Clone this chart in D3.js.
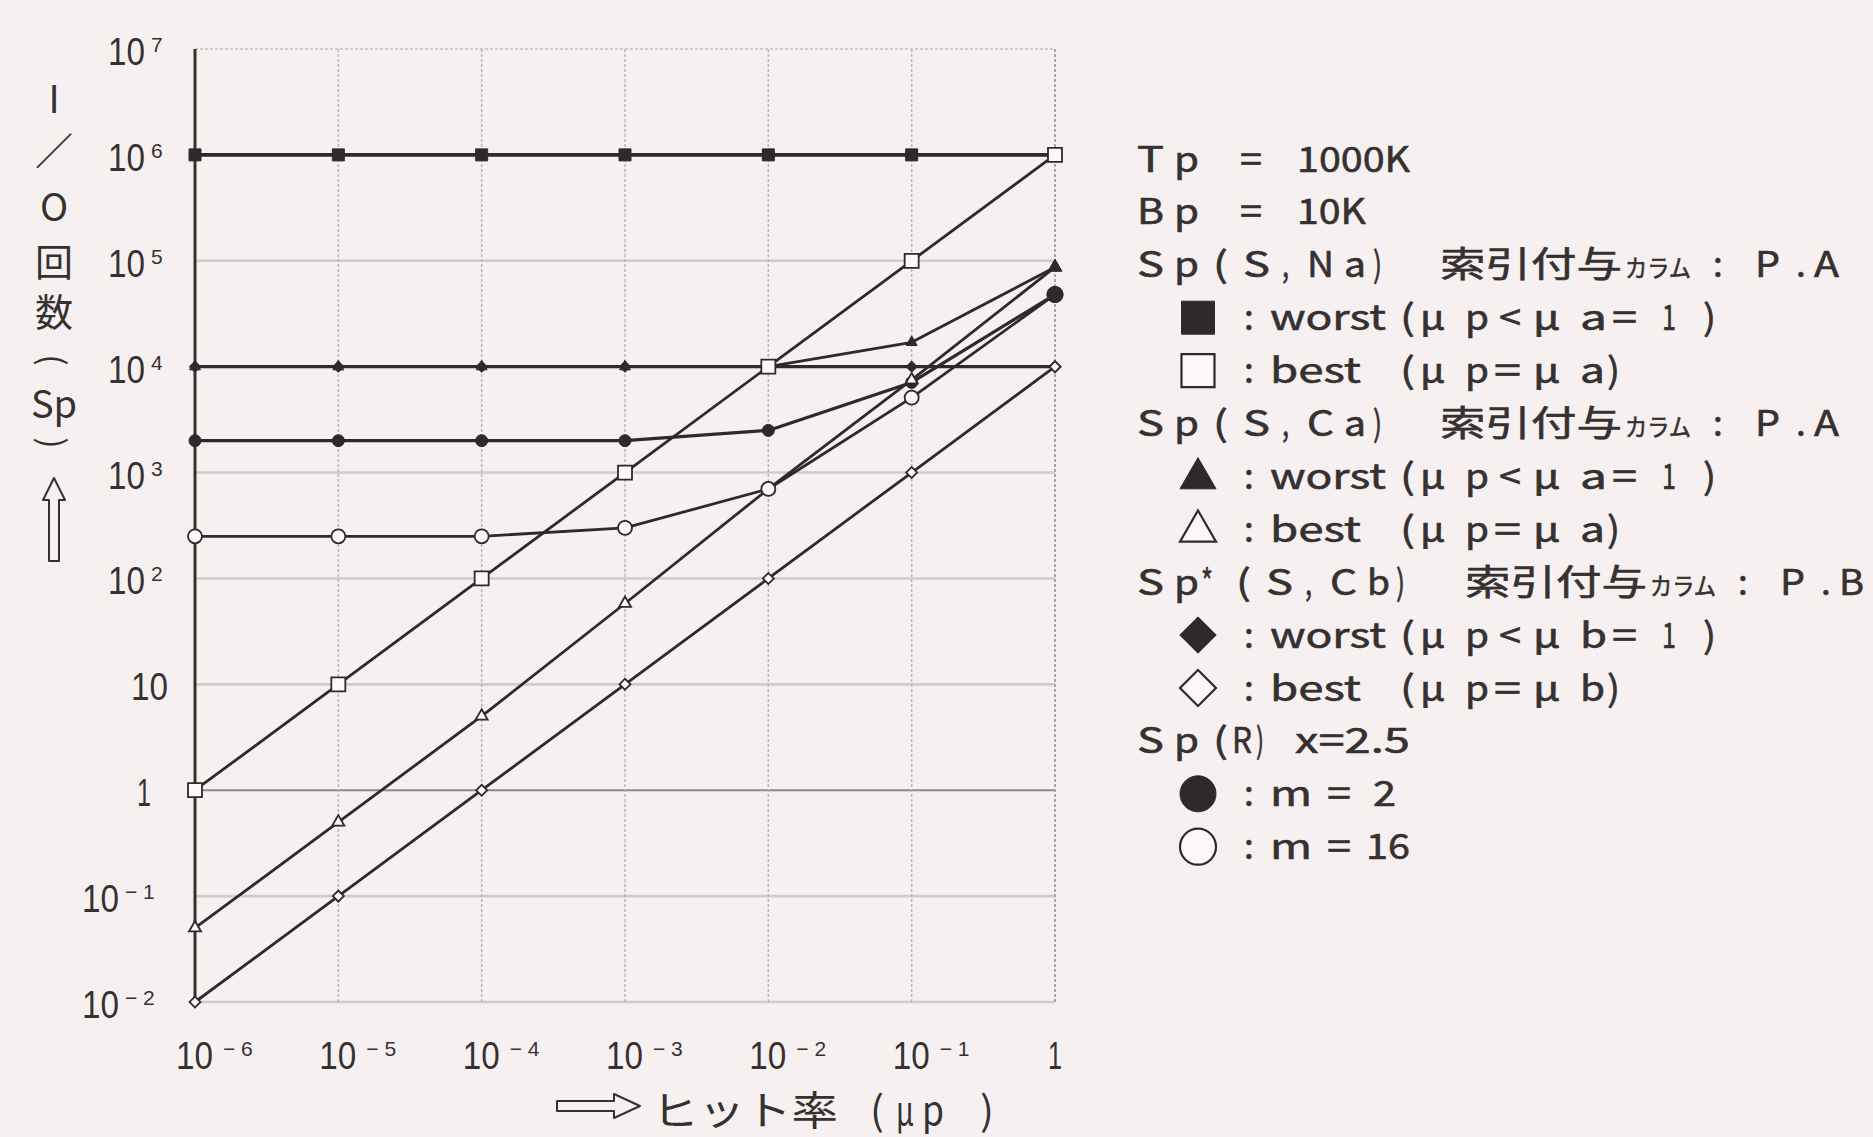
<!DOCTYPE html>
<html>
<head>
<meta charset="utf-8">
<script src="https://cdn.jsdelivr.net/npm/d3@7"></script>
<style>
  html, body { margin: 0; padding: 0; background: #f6f1f0; }
  svg { display: block; }
</style>
</head>
<body>
<svg id="chart" width="1873" height="1137"></svg>
<script>
// Hit rate (μp) sample points
const hitRates = [1e-6, 1e-5, 1e-4, 1e-3, 1e-2, 1e-1, 1];

// Sp(S,Na), index on P.A
const spNaWorst = [1e6, 1e6, 1e6, 1e6, 1e6, 1e6, 1e6];
const spNaBest  = [1, 10, 100, 1000, 1e4, 1e5, 1e6];
// Sp(S,Ca), index on P.A
const spCaWorst = [1e4, 1e4, 1e4, 1e4, 1e4, 1.7e4, 8.7e4];
const spCaBest  = [0.05, 0.5, 5, 58, 700, 7500, 8.7e4];
// Sp*(S,Cb), index on P.B
const spCbWorst = [1e4, 1e4, 1e4, 1e4, 1e4, 1e4, 1e4];
const spCbBest  = [0.01, 0.1, 1, 10, 100, 1000, 1e4];
// Sp(R), x = 2.5
const spRm2  = [2000, 2000, 2000, 2000, 2500, 7100, 4.8e4];
const spRm16 = [250, 250, 250, 300, 700, 5100, 4.8e4];

const xTickValues = [1e-6, 1e-5, 1e-4, 1e-3, 1e-2, 1e-1, 1];
const yTickValues = [1e-2, 1e-1, 1, 10, 1e2, 1e3, 1e4, 1e5, 1e6, 1e7];

const INK = "#2e2a2a";
const TEXT = "#363131";
const JP = "'Noto Sans CJK JP', 'Noto Sans CJK SC', sans-serif";
const DIGITS = "'Liberation Sans', Arimo, sans-serif";

const svg = d3.select("#chart");
svg.append("rect").attr("width", 1873).attr("height", 1137).attr("fill", "#f6f1f0");

const x = d3.scaleLog().domain([1e-6, 1]).range([195, 1055]);
const y = d3.scaleLog().domain([1e-2, 1e7]).range([1002, 49]);

// ---------- grid ----------
const grid = svg.append("g");
yTickValues.forEach(v => {
  const exp = Math.round(Math.log10(v));
  let stroke = "#d0cac9", w = 2.6, dash = null;
  if (exp === 0) { stroke = "#8e8988"; w = 2; }
  if (exp === 7) { w = 2; dash = "3,2"; }
  grid.append("line")
    .attr("x1", x(1e-6)).attr("x2", x(1))
    .attr("y1", y(v)).attr("y2", y(v))
    .attr("stroke", stroke).attr("stroke-width", w)
    .attr("stroke-dasharray", dash);
});
xTickValues.slice(1).forEach(v => {
  const edge = v === 1;
  grid.append("line")
    .attr("x1", x(v)).attr("x2", x(v))
    .attr("y1", y(1e7)).attr("y2", y(1e-2))
    .attr("stroke", edge ? "#aaa4a3" : "#bab4b3")
    .attr("stroke-width", edge ? 2 : 1.5)
    .attr("stroke-dasharray", "3,2");
});
// left axis
svg.append("line")
  .attr("x1", x(1e-6)).attr("x2", x(1e-6))
  .attr("y1", y(1e7)).attr("y2", y(1e-2) + 1)
  .attr("stroke", "#3a2e2e").attr("stroke-width", 3);

// ---------- tick labels ----------
// condensed digits: "10" is squeezed to the narrow width of the printed face
const ticks = svg.append("g").attr("fill", TEXT).style("font-family", DIGITS);
function expText(exp) { return exp < 0 ? "\u2212 " + (-exp) : String(exp); }

yTickValues.forEach(v => {
  const exp = Math.round(Math.log10(v));
  const by = y(v) + 16;
  if (exp === 0) {
    ticks.append("text").attr("x", 151).attr("y", by).attr("text-anchor", "end")
      .style("font-size", "39px").attr("textLength", 14).attr("lengthAdjust", "spacingAndGlyphs").text("1");
    return;
  }
  const baseRight = exp === 1 ? 168 : exp < 0 ? 119 : 145;
  ticks.append("text").attr("x", baseRight - 37).attr("y", by)
    .style("font-size", "39px").attr("textLength", 37).attr("lengthAdjust", "spacingAndGlyphs")
    .text("10");
  if (exp !== 1) {
    ticks.append("text").attr("x", baseRight + 6).attr("y", by - 13)
      .style("font-size", "21px").text(expText(exp));
  }
});
const xLabelBase = 1069;
xTickValues.forEach(v => {
  const exp = Math.round(Math.log10(v));
  if (exp === 0) {
    ticks.append("text").attr("x", x(v) - 7).attr("y", xLabelBase)
      .style("font-size", "38px").attr("textLength", 14).attr("lengthAdjust", "spacingAndGlyphs").text("1");
    return;
  }
  ticks.append("text").attr("x", x(v) - 19).attr("y", xLabelBase)
    .style("font-size", "38px").attr("textLength", 37).attr("lengthAdjust", "spacingAndGlyphs")
    .text("10");
  ticks.append("text").attr("x", x(v) + 28).attr("y", xLabelBase - 13)
    .style("font-size", "21px").text(expText(exp));
});

// ---------- series ----------
const series = [
  { values: spNaWorst, shape: "square",   filled: true,  size: 12, endSize: 13, width: 3.6 },
  { values: spNaBest,  shape: "square",   filled: false, size: 14, endSize: 14, width: 2.8 },
  { values: spCaWorst, shape: "triangle", filled: true,  size: 11, endSize: 13, width: 2.8 },
  { values: spCaBest,  shape: "triangle", filled: false, size: 12, endSize: 12, width: 2.8 },
  { values: spCbWorst, shape: "diamond",  filled: true,  size: 11, endSize: 12, width: 3.2 },
  { values: spCbBest,  shape: "diamond",  filled: false, size: 11, endSize: 11, width: 2.8 },
  { values: spRm2,     shape: "circle",   filled: true,  size: 12, endSize: 16, width: 3.2 },
  { values: spRm16,    shape: "circle",   filled: false, size: 14, endSize: 14, width: 2.8 }
];

const line = d3.line().x(d => x(d[0])).y(d => y(d[1]));
const linesG = svg.append("g").attr("fill", "none").attr("stroke", INK)
  .attr("stroke-linejoin", "round").attr("stroke-linecap", "round");
series.forEach(s => {
  linesG.append("path")
    .attr("d", line(hitRates.map((h, i) => [h, s.values[i]])))
    .attr("stroke-width", s.width);
});

const symbolTypes = {
  square: d3.symbolSquare, triangle: d3.symbolTriangle,
  diamond: d3.symbolSquare, circle: d3.symbolCircle
};
function symbolArea(shape, w) {
  if (shape === "square") return w * w;
  if (shape === "diamond") return (w * w) / 2;
  if (shape === "triangle") return Math.sqrt(3) / 4 * w * w;
  return Math.PI * (w / 2) * (w / 2);
}
function addMarker(g, shape, filled, w, cx, cy, strokeW) {
  return g.append("path")
    .attr("d", d3.symbol().type(symbolTypes[shape]).size(symbolArea(shape, w))())
    .attr("transform", `translate(${cx},${cy})` + (shape === "diamond" ? " rotate(45)" : ""))
    .attr("fill", filled ? INK : "#fbf8f7")
    .attr("stroke", INK)
    .attr("stroke-width", filled ? 1 : strokeW);
}

const markersG = svg.append("g");
// open markers go last so they stay visible where series cross
const markerOrder = [4, 2, 0, 6, 5, 3, 7, 1];
markerOrder.forEach(k => {
  const s = series[k];
  hitRates.forEach((h, i) => {
    const w = i === hitRates.length - 1 ? s.endSize : s.size;
    addMarker(markersG, s.shape, s.filled, w, x(h), y(s.values[i]), 1.8);
  });
});
// merged end points sit on top
addMarker(markersG, "triangle", true, 13, x(1), y(spCaWorst[6]), 1);
addMarker(markersG, "circle", true, 16, x(1), y(spRm2[6]), 1);

// ---------- axis titles ----------
const yTitle = svg.append("text").attr("fill", TEXT)
  .style("font-family", JP).style("font-size", "38px").attr("text-anchor", "middle");
[["I", 100], ["／", 152], ["O", 208], ["回", 263], ["数", 313], ["Sp", 405]]
  .forEach(([ch, cy]) => yTitle.append("tspan").attr("x", 54).attr("y", cy + 13).text(ch));
// bracket pair set sideways around "Sp"
[["(", 360], [")", 443]].forEach(([ch, cy]) => {
  svg.append("text").attr("fill", TEXT)
    .style("font-family", JP).style("font-size", "34px")
    .attr("text-anchor", "middle").attr("dominant-baseline", "central")
    .attr("transform", `translate(54,${cy}) rotate(90)`)
    .text(ch);
});
svg.append("path")
  .attr("d", "M54,478 L65,500 L59,500 L59,561 L49,561 L49,500 L43,500 Z")
  .attr("fill", "none").attr("stroke", TEXT).attr("stroke-width", 2).attr("stroke-linejoin", "round");

svg.append("path")
  .attr("d", "M640,1106 L614,1094 L614,1101 L557,1101 L557,1111 L614,1111 L614,1118 Z")
  .attr("fill", "none").attr("stroke", TEXT).attr("stroke-width", 2).attr("stroke-linejoin", "round");
const xTitle = svg.append("text").attr("fill", TEXT).style("font-family", JP).style("font-size", "40px");
[["ヒット率", 652, 838], ["(", 870, 884], ["μ", 896, 914], ["p", 922, 944], [")", 980, 994]]
  .forEach(([t, x0, x1]) => xTitle.append("tspan")
    .attr("x", x0).attr("y", 1125)
    .attr("textLength", x1 - x0).attr("lengthAdjust", "spacingAndGlyphs")
    .text(t));

// ---------- legend ----------
const spNa = [["S",1137,1164],["p",1174,1199],["(",1213,1228],["S",1243,1270],[",",1282,1289],["N",1307,1334],["a",1344,1366],[")",1373,1382]];
const spCa = [["S",1137,1164],["p",1174,1199],["(",1213,1228],["S",1243,1270],[",",1282,1289],["C",1307,1334],["a",1344,1366],[")",1373,1382]];
const spCb = [["S",1137,1164],["p",1174,1199],["*",1201,1213],["(",1236,1251],["S",1266,1293],[",",1305,1312],["C",1330,1357],["b",1367,1390],[")",1396,1405]];
const idxCol = (dx, col) => [["索引付与",1440+dx,1622+dx],["カラム",1625+dx,1691+dx,24],[":",1713+dx,null],["P",1755+dx,1780+dx],[".",1796+dx,null],[col,1814+dx,1839+dx]];
const worstTxt = v => [[":",1244,null],["worst",1270,1386],["(",1400,1415],["μ",1420,1445],["p",1465,1489],["<",1499,1521],["μ",1533,1560],[v,1580,1607],["=",1612,1637],["1",1662,1676],[")",1703,1716]];
const bestTxt = v => [[":",1244,null],["best",1270,1361],["(",1400,1415],["μ",1420,1445],["p",1465,1489],["=",1494,1521],["μ",1533,1560],[v,1580,1605],[")",1607,1620]];

const legendRows = [
  { tokens: [["T",1137,1164],["p",1174,1199],["=",1240,1262],["1000K",1297,1410]] },
  { tokens: [["B",1137,1164],["p",1174,1199],["=",1240,1262],["10K",1297,1366]] },
  { tokens: spNa.concat(idxCol(0, "A")) },
  { marker: ["square", true], tokens: worstTxt("a") },
  { marker: ["square", false], tokens: bestTxt("a") },
  { tokens: spCa.concat(idxCol(0, "A")) },
  { marker: ["triangle", true], tokens: worstTxt("a") },
  { marker: ["triangle", false], tokens: bestTxt("a") },
  { tokens: spCb.concat(idxCol(25, "B")) },
  { marker: ["diamond", true], tokens: worstTxt("b") },
  { marker: ["diamond", false], tokens: bestTxt("b") },
  { tokens: [["S",1137,1164],["p",1174,1199],["(",1213,1228],["R",1232,1252],[")",1256,1264],["x=2.5",1295,1410]] },
  { marker: ["circle", true], tokens: [[":",1244,null],["m",1270,1312],["=",1327,1351],["2",1373,1396]] },
  { marker: ["circle", false], tokens: [[":",1244,null],["m",1270,1312],["=",1327,1351],["16",1366,1410]] }
];

const legend = svg.append("g").attr("fill", TEXT).style("font-family", JP);
legendRows.forEach((row, i) => {
  const cy = 159 + 52.9 * i;
  if (row.marker) {
    const [shape, filled] = row.marker;
    const w = shape === "square" ? 33 : 36;
    addMarker(legend, shape, filled, w, 1198, shape === "triangle" ? cy + 2 : cy, 2.2);
  }
  // each row is one text element; tokens sit at their own columns
  const t = legend.append("text")
    .attr("stroke", TEXT).attr("stroke-width", 0.6);
  row.tokens.forEach(([s, x0, x1, fs]) => {
    const el = t.append("tspan")
      .attr("x", x0)
      .attr("y", cy + 12.5)
      .style("font-size", (fs || 35) + "px")
      .text(s);
    if (x1 !== null && x1 !== undefined) {
      el.attr("textLength", x1 - x0).attr("lengthAdjust", "spacingAndGlyphs");
    }
  });
});
</script>
</body>
</html>
